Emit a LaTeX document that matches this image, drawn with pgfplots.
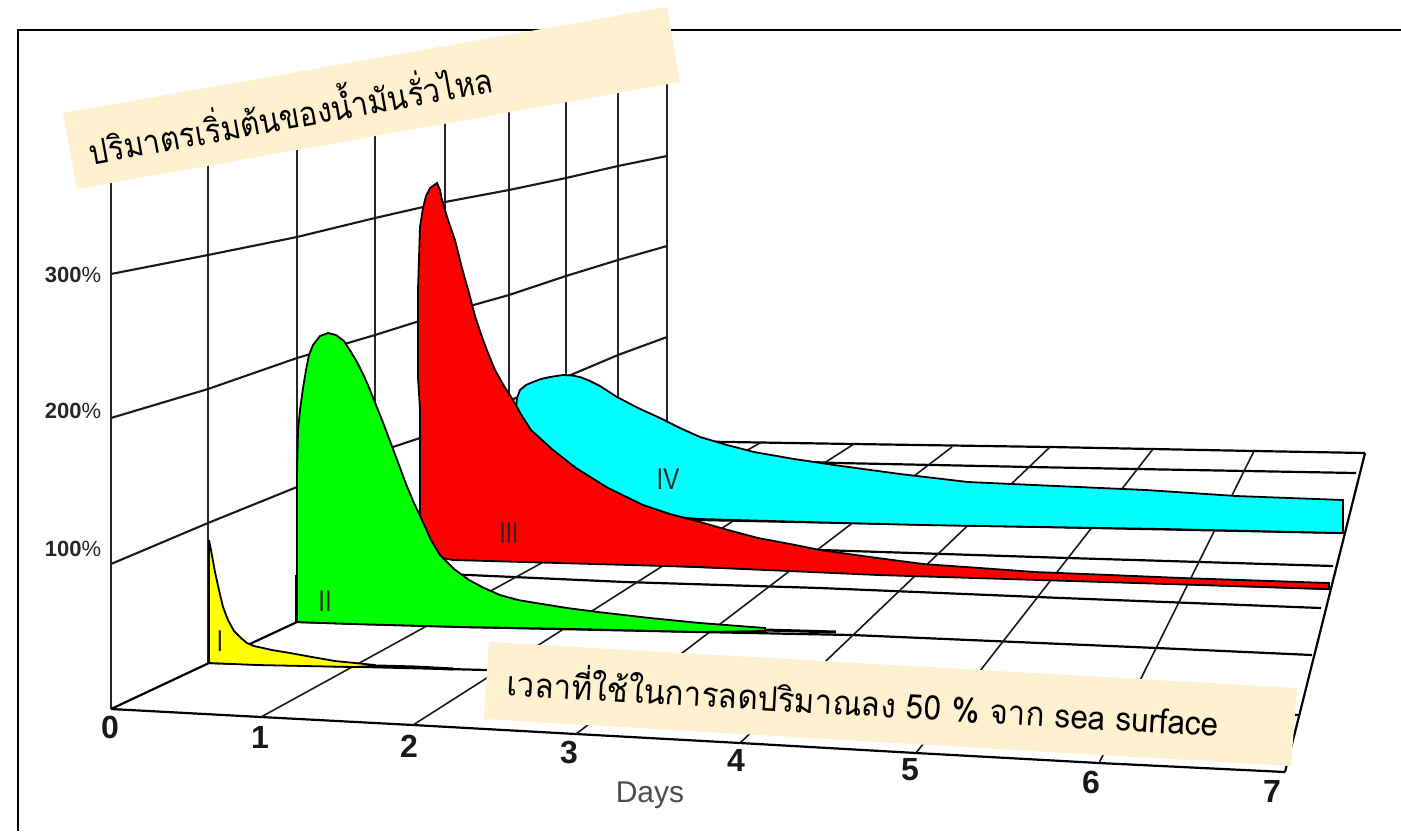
\documentclass[border=0pt]{standalone}
\usepackage{pgfplots}
\pgfplotsset{compat=1.18}
\usepackage{fontspec}
\setmainfont{Liberation Sans}
\newfontfamily\thaifont[Script=Thai]{Loma}
\definecolor{boxc}{HTML}{FFF0CF}
\definecolor{cy}{HTML}{00FFFF}
\definecolor{gr}{HTML}{00FF00}
\definecolor{ye}{HTML}{FFFF00}
\definecolor{re}{HTML}{FF0000}
\tikzset{
  wall/.style={black!85, line width=1.1pt},
  hline/.style={black!90, line width=1.05pt},
  row/.style={black, line width=1.1pt},
  cross/.style={black!90, line width=0.8pt},
  ser/.style={draw=black, line width=0.9pt},
  tick/.style={font=\fontsize{16}{16}\selectfont\bfseries, text=black!90},
  pct/.style={font=\fontsize{11}{11}\selectfont, text=black!85},
  rom/.style={font=\fontsize{15}{15}\selectfont, text=black!85},
}
\begin{document}
\begin{tikzpicture}
\begin{axis}[
  scale only axis, width=700.5pt, height=415.5pt,
  xmin=0, xmax=1401, ymin=0, ymax=831, y dir=reverse,
  axis lines=none, clip=true,
]
% frame
\addplot[black, line width=1.3pt] coordinates {(1401,30) (18,30) (18,831)};
% wall verticals
\addplot[wall] coordinates {(111,150) (111,709)};
\addplot[wall] coordinates {(208,140) (208,663)};
\addplot[wall] coordinates {(297,120) (297,622)};
\addplot[wall] coordinates {(375,100) (375,586)};
\addplot[wall] coordinates {(445,90) (445,553)};
\addplot[wall] coordinates {(509,80) (509,522)};
\addplot[wall] coordinates {(566,70) (566,495)};
\addplot[wall] coordinates {(618,60) (618,466)};
\addplot[wall] coordinates {(667,50) (667,441)};
% wall percentage lines
\addplot[hline] coordinates {(111,274) (208,255) (297,237) (375,218) (445,202) (509,190) (566,178) (618,166) (667,156)};
\addplot[hline] coordinates {(111,418) (208,389) (297,358) (375,335) (445,313) (509,295) (566,276) (618,260) (667,246)};
\addplot[hline] coordinates {(111,564) (208,523) (297,487) (393,447) (420,438) (566,377) (618,355) (667,337)};
% floor left and right edges
\addplot[row] coordinates {(111,709) (209,663) (297,622) (375,586) (445,553) (509,522) (566,495) (618,466) (667,441)};
\addplot[row] coordinates {(1285,772) (1365,453)};
% floor rows
\addplot[row] coordinates {(111,709) (261,717) (413,725) (576,734) (740,743) (916,753) (1099,763) (1285,772)};
\addplot[row] coordinates {(209,663) (487,670) (1299,715)};
\addplot[row] coordinates {(297,622) (464,627) (700,632) (852,635) (1157,648) (1312,655)};
\addplot[row] coordinates {(375,572) (469,575) (625,582) (820,588) (1062,598) (1321,608)};
\addplot[row] coordinates {(445,555) (700,567) (1329,589)};
\addplot[row] coordinates {(509,540) (820,550) (1068,558) (1333,566)};
\addplot[row] coordinates {(566,517) (700,520) (1343,533)};
\addplot[row] coordinates {(618,455) (838,463) (1030,467) (1137,469) (1356,473)};
\addplot[row] coordinates {(667,441) (854,444) (1050,447) (1254,451) (1365,453)};
% floor cross lines
\addplot[cross] coordinates {(261,717) (762,442)};
\addplot[cross] coordinates {(413,725) (854,444)};
\addplot[cross] coordinates {(576,734) (952,447)};
\addplot[cross] coordinates {(740,743) (1050,447)};
\addplot[cross] coordinates {(916,753) (1153,449)};
\addplot[cross] coordinates {(1099,763) (1254,451)};
% series IV
\addplot[ser, fill=cy] coordinates {(516,408) (517,398) (520,390) (526,385) (533,382) (541,379) (550,377) (563,375) (572,375.5) (580,377) (590,381) (600,386) (617,397) (638,408) (660,418) (680,428) (700,437) (727,445) (754,452) (794,459) (834,465) (900,474) (968,482) (1056,486) (1146,490) (1236,496) (1343,500) (1343,533) (1164,529) (1044,527) (923,525) (807,522) (700,519) (650,515) (530,440)} -- cycle;
% series III
\addplot[ser, fill=re] coordinates {(437,183) (430,188) (426,196) (423,208) (420,227) (418,290) (418,377) (420,410) (420,552) (442,558) (453,560) (594,564) (700,567) (878,575) (1329,589) (1329,583) (1182,578) (1110,575) (1035,572) (980,568) (923,564) (870,557) (820,550) (790,544) (758,538) (728,530) (700,522) (670,514) (643,505) (608,488) (576,468) (553,450) (531,430) (522,416) (513,400) (504,386) (495,370) (488,353) (482,337) (475,316) (469,293) (462,268) (455,240) (448,220) (442,200) (440,190)} -- cycle;
% series II
\addplot[ser, fill=gr] coordinates {(328,333) (320,336) (313,345) (309,355) (306,370) (303,388) (300,410) (298,430) (297,477) (297,622) (353,624) (464,627) (576,629) (700,632) (765,631) (765,628) (700,623) (650,618) (598,612) (567,608) (536,603) (518,600) (500,595) (484,588) (469,580) (454,569) (440,555) (431,540) (422,520) (414,503) (406,484) (399,465) (393,449) (387,433) (382,420) (376,405) (370,390) (364,376) (357,362) (351,352) (344,341) (336,335)} -- cycle;
\addplot[black, line width=1.5pt] coordinates {(765,630) (836,632)};
\addplot[black, line width=1.4pt] coordinates {(296,575) (296,622)};
% series I
\addplot[ser, fill=ye] coordinates {(209,540) (209,663) (257,665) (353,667) (377,666) (375,665) (335,661) (312,657) (290,653) (272,650) (254,646) (247,643) (241,638) (234,631) (228,620) (223,607) (219,590) (215,572) (211,550)} -- cycle;
\addplot[black, line width=1.5pt] coordinates {(377,666) (415,667) (453,669)};
% text on the chart
\node[pct] at (axis cs:73,275) {\textbf{300}\%};
\node[pct] at (axis cs:73,411) {\textbf{200}\%};
\node[pct] at (axis cs:73,549) {\textbf{100}\%};
\node[tick] at (axis cs:110,727) {0};
\node[tick] at (axis cs:260,737) {1};
\node[tick] at (axis cs:409,746) {2};
\node[tick] at (axis cs:569,752) {3};
\node[tick] at (axis cs:736,760) {4};
\node[tick] at (axis cs:910,770) {5};
\node[tick] at (axis cs:1091,782) {6};
\node[tick] at (axis cs:1272,791) {7};
\node[font=\fontsize{15}{15}\selectfont, text=black!70] at (axis cs:650,795) {Days};
\node[rom] at (axis cs:220,641) {\scalebox{0.8}[1]{I}};
\node[rom] at (axis cs:325,601) {\scalebox{0.8}[1]{II}};
\node[rom] at (axis cs:509,533) {\scalebox{0.75}[1]{III}};
\node[rom] at (axis cs:668,479) {\scalebox{0.8}[1]{IV}};
% banners
\addplot[draw=none, fill=boxc] coordinates {(63,113) (667,7) (680,82) (77,189)} -- cycle;
\addplot[draw=none, fill=boxc] coordinates {(489,642) (1297,688) (1291,766) (484,719)} -- cycle;
\node[rotate=10.3, font=\thaifont\fontsize{17}{17}\selectfont] at (axis cs:290,111) {\scalebox{0.88}[1]{ปริมาตรเริ่มต้นของน้ำมันรั่วไหล}};
\node[rotate=-3.3, font=\thaifont\fontsize{17}{17}\selectfont] at (axis cs:863,699) {\scalebox{0.92}[1]{เวลาที่ใช้ในการลดปริมาณลง 50 \% จาก sea surface}};
\end{axis}
\pgfresetboundingbox
\path[use as bounding box] (current axis.south west) rectangle (current axis.north east);
\end{tikzpicture}
\end{document}
